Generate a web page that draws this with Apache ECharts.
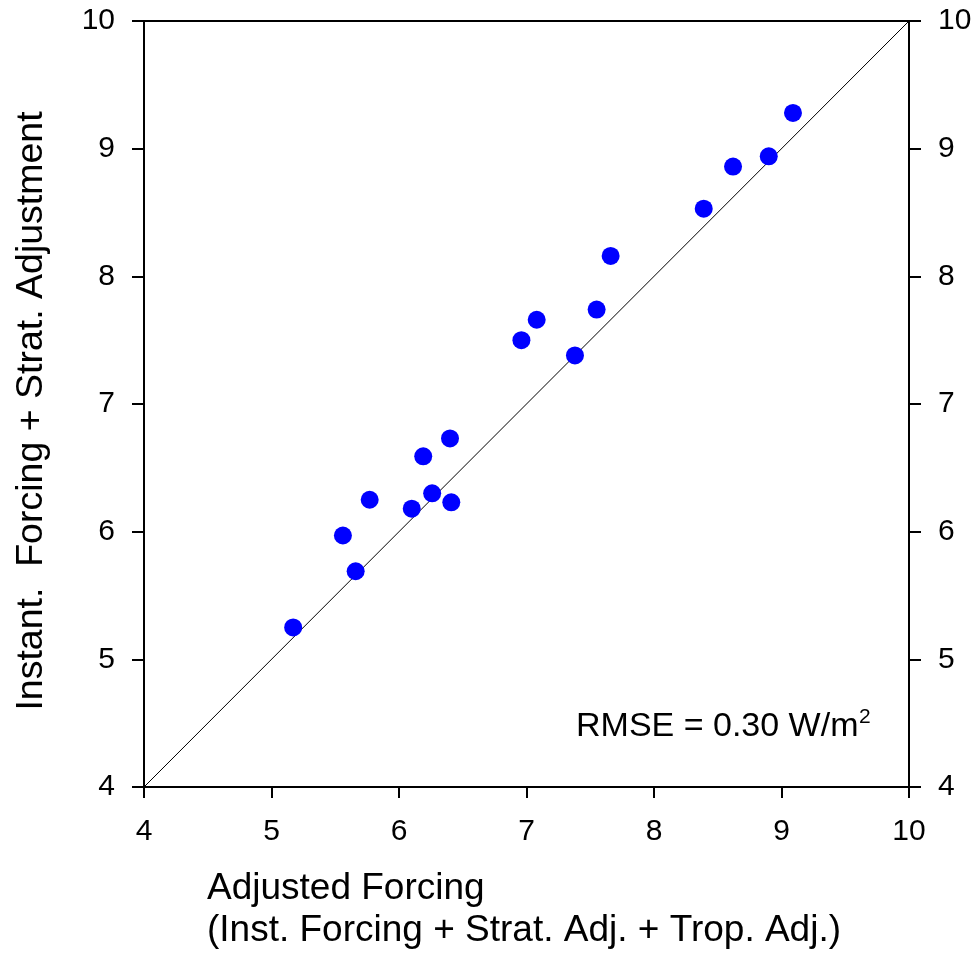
<!DOCTYPE html>
<html>
<head>
<meta charset="utf-8">
<script src="https://cdn.jsdelivr.net/npm/echarts@6/dist/echarts.min.js"></script>
<style>html,body{margin:0;padding:0;background:#fff;}#c{width:975px;height:954px;}</style>
</head>
<body>
<div id="c"></div>
<script>
// Data
var adjustedForcing = [5.17, 5.56, 5.66, 5.77, 6.10, 6.19, 6.26, 6.40, 6.41, 6.96, 7.08, 7.38, 7.55, 7.66, 8.39, 8.62, 8.90, 9.09];
var instStratForcing = [5.25, 5.97, 5.69, 6.25, 6.18, 6.59, 6.30, 6.73, 6.23, 7.50, 7.66, 7.38, 7.74, 8.16, 8.53, 8.86, 8.94, 9.28];
var oneToOneX = [4, 10];
var oneToOneY = [4, 10];
var axisMin = 4, axisMax = 10, axisStep = 1;
var xTitleLines = ["Adjusted Forcing", "(Inst. Forcing + Strat. Adj. + Trop. Adj.)"];
var yTitle = "Instant.  Forcing + Strat. Adjustment";
var rmseText = "RMSE = 0.30 W/m";
var rmseSup = "2";

var FONT = "'Liberation Sans', Arial, Helvetica, sans-serif";
var chart = echarts.init(document.getElementById('c'), null, {renderer: 'canvas'});

var points = adjustedForcing.map(function (x, i) { return [x, instStratForcing[i]]; });
var diag = oneToOneX.map(function (x, i) { return [x, oneToOneY[i]]; });

var axisLine = {show: true, lineStyle: {color: '#000', width: 2}};
var axisLabel = {color: '#000', fontSize: 30, fontFamily: FONT, margin: 29};

chart.setOption({
  animation: false,
  backgroundColor: '#fff',
  grid: {left: 144, right: 66, top: 21, bottom: 167, containLabel: false},
  xAxis: [
    {type: 'value', position: 'bottom', min: axisMin, max: axisMax, interval: axisStep,
     axisLine: axisLine, axisTick: {show: true, inside: false, length: 11, lineStyle: {color: '#000', width: 2}},
     axisLabel: Object.assign({}, axisLabel, {margin: 30}), splitLine: {show: false}},
    {type: 'value', position: 'top', min: axisMin, max: axisMax, interval: axisStep,
     axisLine: axisLine, axisTick: {show: false}, axisLabel: {show: false}, splitLine: {show: false}}
  ],
  yAxis: [
    {type: 'value', position: 'left', min: axisMin, max: axisMax, interval: axisStep,
     axisLine: axisLine, axisTick: {show: true, inside: false, length: 12, lineStyle: {color: '#000', width: 2}},
     axisLabel: axisLabel, splitLine: {show: false}},
    {type: 'value', position: 'right', min: axisMin, max: axisMax, interval: axisStep,
     axisLine: axisLine, axisTick: {show: true, inside: false, length: 12, lineStyle: {color: '#000', width: 2}},
     axisLabel: axisLabel, splitLine: {show: false}}
  ],
  series: [
    {type: 'line', data: diag, xAxisIndex: 0, yAxisIndex: 0, symbol: 'none', silent: true,
     lineStyle: {color: '#000', width: 1}, z: 1},
    {type: 'scatter', data: points, xAxisIndex: 0, yAxisIndex: 0, symbol: 'circle', symbolSize: 18,
     itemStyle: {color: '#0000FF', opacity: 1}, z: 3}
  ],
  graphic: [
    {type: 'text', x: 207, y: 889, style: {text: xTitleLines[0], fontSize: 37, fontFamily: FONT, fill: '#000', align: 'left', verticalAlign: 'middle'}},
    {type: 'text', x: 207, y: 931, style: {text: xTitleLines[1], fontSize: 37, fontFamily: FONT, fill: '#000', align: 'left', verticalAlign: 'middle'}},
    {type: 'text', x: 32, y: 411, rotation: Math.PI / 2, style: {text: yTitle, fontSize: 37.5, fontFamily: FONT, fill: '#000', align: 'center', verticalAlign: 'middle'}},
    {type: 'text', x: 576, y: 727, style: {text: rmseText, fontSize: 34, fontFamily: FONT, fill: '#000', align: 'left', verticalAlign: 'middle'}},
    {type: 'text', x: 859, y: 717, style: {text: rmseSup, fontSize: 21, fontFamily: FONT, fill: '#000', align: 'left', verticalAlign: 'middle'}}
  ]
});
</script>
</body>
</html>
